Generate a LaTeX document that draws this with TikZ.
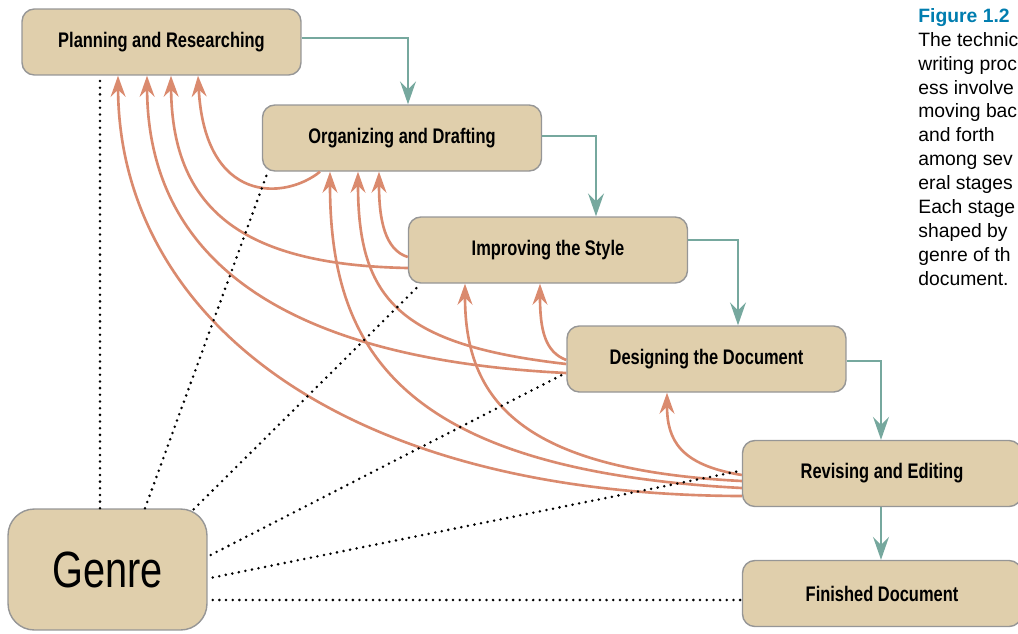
\documentclass[tikz,border=0pt]{standalone}
\usepackage{fontspec}
\setmainfont{Liberation Sans}
\newfontfamily\narrowfont[FakeStretch=0.78]{Liberation Sans}
\definecolor{boxtan}{RGB}{224,207,172}
\definecolor{boxedge}{RGB}{150,150,150}
\definecolor{flowteal}{RGB}{118,168,158}
\definecolor{loopsalmon}{RGB}{218,138,110}
\definecolor{figblue}{RGB}{0,125,175}
\usetikzlibrary{arrows.meta, positioning, calc}

\begin{document}
\begin{tikzpicture}[x=0.02cm, y=-0.02cm,
    stagebox/.style={draw=boxedge, line width=0.8pt, fill=boxtan, rounded corners=7pt,
                     minimum width=5.58cm, minimum height=1.32cm,
                     font=\narrowfont\bfseries\fontsize{12}{14}\selectfont},
    flow/.style={flowteal, line width=1.6pt, -{Stealth[length=13pt, width=9pt, inset=4.5pt]}},
    back/.style={loopsalmon, line width=1.5pt, -{Stealth[length=12pt, width=8.5pt, inset=4pt]}},
    genreline/.style={line width=1.6pt, dash pattern=on 0pt off 3.8pt, line cap=round}]
    \useasboundingbox (0,0) rectangle (1018,633);
    \clip (0,0) rectangle (1018,633);

    % stages of the process
    \foreach \n/\x/\y/\txt in {
        plan/161.5/42/Planning and Researching,
        org/402/138/Organizing and Drafting,
        imp/548/250/Improving the Style,
        des/706.5/359/Designing the Document,
        rev/882/473.5/Revising and Editing,
        fin/882/593.5/Finished Document
    } {
        \node[stagebox] (\n) at (\x,\y) {\txt};
    }
    \node[stagebox, rounded corners=15pt, minimum width=3.98cm, minimum height=2.42cm,
          font=\narrowfont\fontsize{29}{32}\selectfont] (genre) at (107.5,569.5) {Genre};

    % forward flow
    \draw[flow] ($(plan.east)+(0,-4)$) -| ($(org.north)+(6,0)$);
    \draw[flow] ($(org.east)+(0,-2)$) -| ($(imp.north)+(48,0)$);
    \draw[flow] ($(imp.east)+(0,-10)$) -| ($(des.north)+(31.5,0)$);
    \draw[flow] ($(des.east)+(0,2)$) -| ($(rev.north)+(-1,0)$);
    \draw[flow] ($(rev.south)+(-1,0)$) -- ($(fin.north)+(-1,0)$);

    % moving back to earlier stages
    \draw[back] ($(org.south)+(-82,0)$) .. controls (285,200) and (205,205) .. ($(plan.south)+(36.5,0)$);
    \draw[back] ($(imp.west)+(0,18)$) .. controls (250,265) and (172,215) .. ($(plan.south)+(9.5,0)$);
    \draw[back] ($(des.west)+(0,14)$) .. controls (300,360) and (148,270) .. ($(plan.south)+(-14.5,0)$);
    \draw[back] ($(rev.west)+(0,22.5)$) .. controls (330,495) and (119,310) .. ($(plan.south)+(-43.5,0)$);
    \draw[back] ($(imp.west)+(0,7)$) .. controls (385,250) and (379,220) .. ($(org.south)+(-23,0)$);
    \draw[back] ($(des.west)+(0,5)$) .. controls (400,345) and (358,300) .. ($(org.south)+(-44,0)$);
    \draw[back] ($(rev.west)+(0,14.5)$) .. controls (400,470) and (330,350) .. ($(org.south)+(-72,0)$);
    \draw[back] ($(des.west)+(0,1)$) .. controls (545,352) and (540,330) .. ($(imp.south)+(-8,0)$);
    \draw[back] ($(rev.west)+(0,7.5)$) .. controls (520,470) and (465,400) .. ($(imp.south)+(-83,0)$);
    \draw[back] ($(rev.west)+(0,1.5)$) .. controls (680,465) and (667,440) .. ($(des.south)+(-39.5,0)$);

    % genre shapes every stage
    \draw[genreline] ($(genre.north)+(-7.5,0)$) -- ($(plan.south)+(-61.5,0)$);
    \draw[genreline] ($(genre.north)+(37.5,0)$) -- ($(org.south west)+(6,0)$);
    \draw[genreline] ($(genre.north east)+(-14,1)$) -- ($(imp.south west)+(13,0)$);
    \draw[genreline] ($(genre.east)+(3,-14.5)$) -- ($(des.south west)+(0,-20)$);
    \draw[genreline] ($(genre.east)+(5,8)$) -- ($(rev.west)+(0,-3)$);
    \draw[genreline] ($(genre.east)+(5,30.5)$) -- ($(fin.west)+(0,6.5)$);

    \node[anchor=north west, align=left, inner sep=0pt,
          font=\fontsize{11}{13.6}\selectfont] (caption) at (918,8)
        {\textcolor{figblue}{\bfseries Figure 1.2}\\
         The technic\\ writing proc\\ ess involve\\ moving bac\\ and forth\\
         among sev\\ eral stages\\ Each stage\\ shaped by\\ genre of th\\ document.};
\end{tikzpicture}
\end{document}
